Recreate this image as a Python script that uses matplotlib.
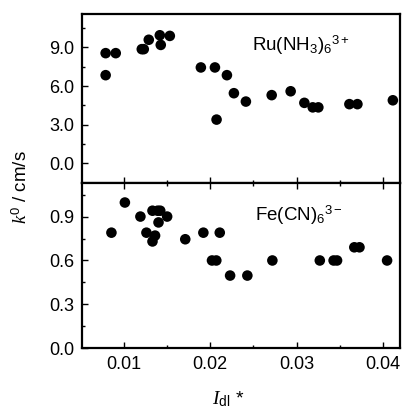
import matplotlib
matplotlib.use("Agg")
import matplotlib.pyplot as plt
from matplotlib.ticker import MultipleLocator

plt.rcParams['font.family'] = ['Liberation Sans', 'DejaVu Sans']
plt.rcParams['mathtext.fontset'] = 'custom'
plt.rcParams['mathtext.rm'] = 'Liberation Sans'
plt.rcParams['mathtext.it'] = 'Liberation Serif:italic'

# Ru(NH3)6 3+ data
ru_x = [0.00787, 0.00787, 0.00904, 0.01206, 0.01229, 0.01287, 0.01415, 0.01426,
        0.01531, 0.01891, 0.02054, 0.02073, 0.02193, 0.02274, 0.02413, 0.02712,
        0.02932, 0.03091, 0.03188, 0.03253, 0.03613, 0.03706, 0.04117]
ru_y = [8.56, 6.85, 8.56, 8.87, 8.87, 9.6, 9.95, 9.2,
        9.9, 7.45, 7.45, 3.4, 6.85, 5.45, 4.8, 5.3,
        5.6, 4.7, 4.35, 4.35, 4.6, 4.6, 4.9]

# Fe(CN)6 3- data
fe_x = [0.00854, 0.0101, 0.0119, 0.0126, 0.0133, 0.0133, 0.0139, 0.0142, 0.0136,
        0.0140, 0.0150, 0.0171, 0.0192, 0.0211, 0.0202, 0.0207, 0.0223, 0.0243,
        0.0272, 0.0327, 0.0343, 0.0347, 0.0367, 0.0373, 0.0405]
fe_y = [0.79, 0.996, 0.90, 0.79, 0.73, 0.94, 0.94, 0.94, 0.77,
        0.86, 0.90, 0.745, 0.79, 0.79, 0.60, 0.60, 0.497, 0.497,
        0.60, 0.60, 0.60, 0.60, 0.69, 0.69, 0.60]

xticks = [0.01, 0.02, 0.03, 0.04]
xlabels = ['0.01', '0.02', '0.03', '0.04']
top_yticks = [0.0, 3.0, 6.0, 9.0]
top_ylabels = ['0.0', '3.0', '6.0', '9.0']
bot_yticks = [0.0, 0.3, 0.6, 0.9]
bot_ylabels = ['0.0', '0.3', '0.6', '0.9']

fig = plt.figure(figsize=(4.05, 4.12), dpi=100)
left, right = 0.2025, 0.9877
ax1 = fig.add_axes([left, 0.555, right - left, 0.966 - 0.555])
ax2 = fig.add_axes([left, 0.1546, right - left, 0.555 - 0.1546])

fs = 13
for ax in (ax1, ax2):
    ax.set_xlim(0.00513, 0.0420)
    for s in ax.spines.values():
        s.set_linewidth(1.6)
    ax.set_xticks(xticks)
    ax.xaxis.set_minor_locator(MultipleLocator(0.005))
    ax.tick_params(which='both', direction='in', width=1.0, labelsize=fs, pad=5.5)
    ax.tick_params(which='major', length=4)
    ax.tick_params(which='minor', length=2.5)

ax1.scatter(ru_x, ru_y, s=58, color='black', edgecolors='none', zorder=3)
ax1.set_ylim(-1.55, 11.6)
ax1.set_yticks(top_yticks)
ax1.set_yticklabels(top_ylabels)
ax1.yaxis.set_minor_locator(MultipleLocator(1.5))
ax1.tick_params(axis='x', which='both', labelbottom=False, bottom=True, top=False)
ax1.tick_params(axis='y', which='both', left=True, right=False)
ax1.text(0.535, 0.783, r'Ru(NH$_3$)$_6$$^{3+}$', transform=ax1.transAxes,
         fontsize=13.5, va='baseline')

ax2.scatter(fe_x, fe_y, s=58, color='black', edgecolors='none', zorder=3)
ax2.set_ylim(0.0, 1.127)
ax2.set_yticks(bot_yticks)
ax2.set_yticklabels(bot_ylabels)
ax2.yaxis.set_minor_locator(MultipleLocator(0.15))
ax2.set_xticklabels(xlabels)
ax2.tick_params(axis='x', which='both', bottom=True, top=True)
ax2.tick_params(axis='y', which='both', left=True, right=False)
ax2.text(0.544, 0.773, r'Fe(CN)$_6$$^{3-}$', transform=ax2.transAxes,
         fontsize=13.5, va='baseline')

fig.text(0.052, 0.546, r'$k^{\rm 0}$ / cm/s', rotation=90, ha='center', va='center', fontsize=13.5)
fig.text(0.563, 0.03, r'$I_{\rm dl}$ *', ha='center', va='center', fontsize=14)

fig.savefig('out.png', dpi=100)
